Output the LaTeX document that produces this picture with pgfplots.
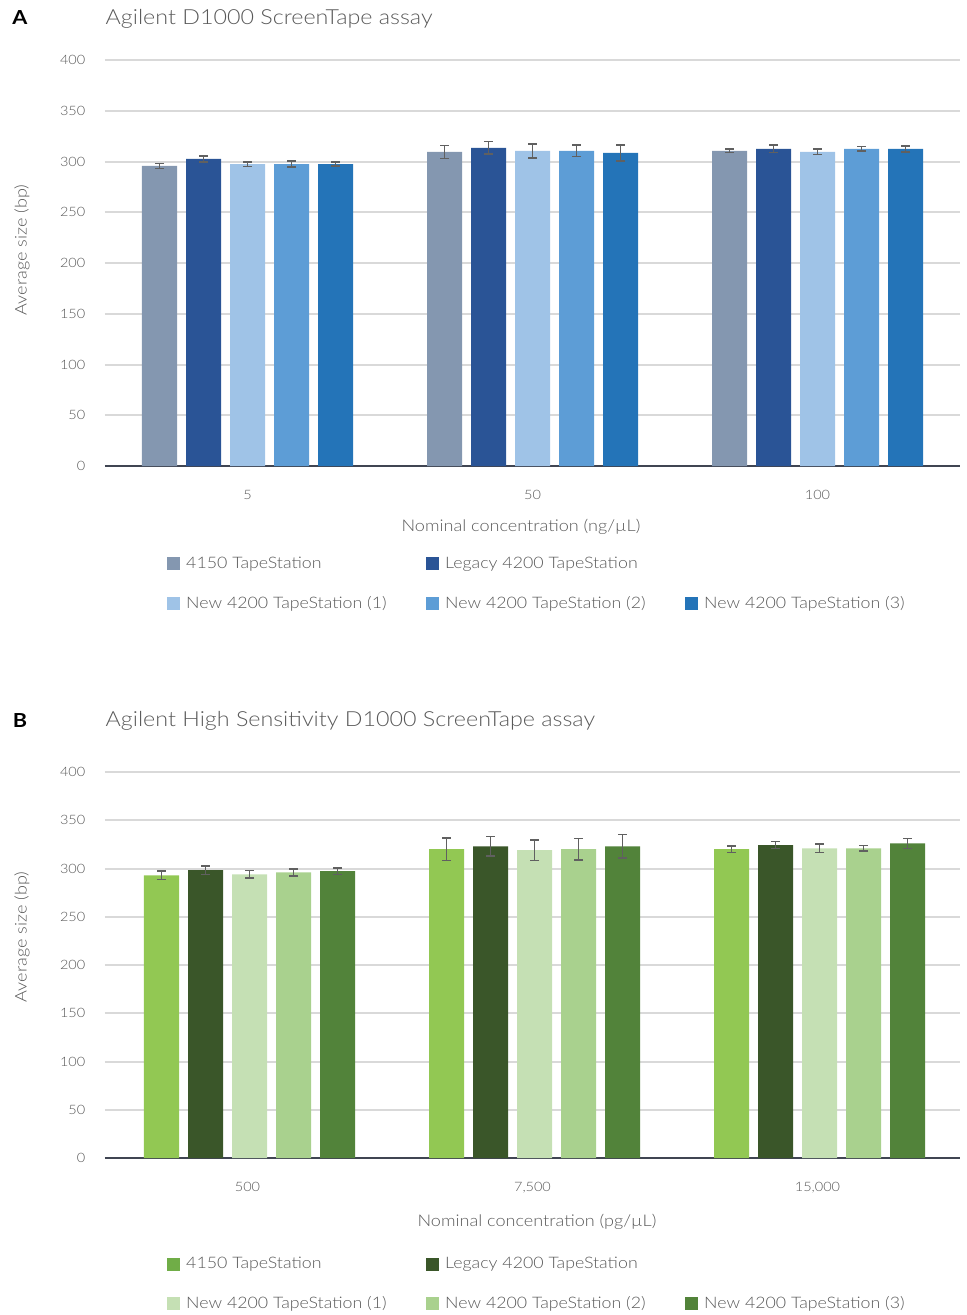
\documentclass[border=0pt]{standalone}
\usepackage{fontspec}
\setmainfont{Lato}[UprightFont={* Light},BoldFont={* Bold},FakeStretch=1.12]
\usepackage{pgfplots}
\usepackage{pgfplotstable}
\pgfplotsset{compat=1.18}

\newlength\px
\setlength\px{0.75pt}

% series colours
\definecolor{aA}{HTML}{8497B0}
\definecolor{aB}{HTML}{2A5496}
\definecolor{aC}{HTML}{9FC3E7}
\definecolor{aD}{HTML}{5D9DD6}
\definecolor{aE}{HTML}{2474B8}
\definecolor{bA}{HTML}{92C853}
\definecolor{bAleg}{HTML}{70AD47}
\definecolor{bB}{HTML}{3A5629}
\definecolor{bC}{HTML}{C5E0B4}
\definecolor{bD}{HTML}{A9D18E}
\definecolor{bE}{HTML}{52833A}
\definecolor{labc}{HTML}{595959}
\definecolor{axisc}{HTML}{404552}
\definecolor{gridc}{HTML}{D9D9D9}
\definecolor{errc}{HTML}{606060}

% average size (bp) and error, one row per nominal concentration
\pgfplotstableread{
x  s1     e1   s2     e2   s3     e3   s4     e4   s5     e5
0  295.7  2.5  302.5  3.0  297.5  2.3  297.5  3.0  297.5  2.2
1  309.5  6.4  313.5  6.3  310.5  7.0  310.5  5.5  308.5  8.0
2  310.5  1.8  312.5  3.5  309.5  2.7  312.5  2.3  312.5  3.0
}\tabA
\pgfplotstableread{
x  s1     e1    s2     e2    s3     e3    s4     e4    s5     e5
0  293.0  4.3   298.3  4.3   294.0  4.0   296.0  3.8   297.2  3.3
1  320.0  11.7  323.0  10.0  319.0  10.5  320.0  11.0  323.0  12.3
2  320.0  3.6   324.3  3.6   321.0  4.3   321.0  3.0   326.0  5.2
}\tabB

\pgfplotsset{
  tapebars/.style={
    scale only axis, width=855\px,
    xmin=-0.5, xmax=2.5, ymin=0, ymax=400, ytick={0,50,...,400},
    ybar, bar width=35\px,
    axis lines*=left,
    y axis line style={draw=none},
    x axis line style={draw=axisc, line width=2.2\px},
    ymajorgrids, grid style={gridc, line width=2\px},
    ytick style={draw=none},
    xtick={0,1,2}, xtick style={draw=none},
    extra x ticks={-0.5,0.5,1.5,2.5}, extra x tick labels={},
    extra x tick style={grid=none, tick align=outside, major tick length=7\px,
      tick style={draw=axisc, line width=2.2\px}},
    /pgf/number format/assume math mode=true,
    ticklabel style={font=\fontsize{9.7}{11}\selectfont, text=labc},
    yticklabel style={xshift=-15\px},
    xticklabel style={yshift=-14\px},
    legend columns=3,
    legend cell align=left,
    legend style={draw=none, fill=none, inner sep=0pt, row sep=26\px,
      font=\fontsize{11.9}{14}\selectfont, text=labc,
      nodes={inner sep=0pt}},
    legend image code/.code={\fill[##1] (0,-6.5\px) rectangle (13\px,6.5\px);},
    error bars/y dir=both, error bars/y explicit,
    error bars/error bar style={errc, line width=1.6\px},
    error bars/error mark options={rotate=90, errc, mark size=4.5\px, line width=1.6\px},
    clip=false,
  },
}
\newcommand\legtext[1]{\hspace{6\px}\makebox[240\px][l]{#1}}

\begin{document}
\begin{tikzpicture}
\path[use as bounding box] (0,0) rectangle (967\px,-1315\px);

% ---------------- panel A ----------------
\node[font=\bfseries\fontsize{14.5}{17}\selectfont] at (20\px,-18\px) {A};
\node[anchor=west, font=\fontsize{15.6}{18}\selectfont, text=labc] at (101\px,-19\px)
  {Agilent D1000 ScreenTape assay};
\node[rotate=90, font=\fontsize{12.1}{14}\selectfont, text=labc] at (22\px,-250\px)
  {Average size (bp)};
\node[font=\fontsize{12.1}{14}\selectfont, text=labc] at (521\px,-527\px)
  {Nominal concentration (ng/µL)};

\begin{axis}[tapebars, height=406\px,
  at={(105\px,-466\px)}, anchor=south west,
  xticklabels={5,50,100},
  legend style={at={(0.0725,-0.224)}, anchor=north west}]
\addplot[fill=aA, draw=none, bar shift=-88\px] table[x=x, y=s1, y error=e1] {\tabA};
\addlegendentry{\legtext{4150 TapeStation}}
\addplot[fill=aB, draw=none, bar shift=-44\px] table[x=x, y=s2, y error=e2] {\tabA};
\addlegendentry{\legtext{Legacy 4200 TapeStation}}
\addlegendimage{empty legend}
\addlegendentry{}
\addplot[fill=aC, draw=none, bar shift=0pt] table[x=x, y=s3, y error=e3] {\tabA};
\addlegendentry{\legtext{New 4200 TapeStation (1)}}
\addplot[fill=aD, draw=none, bar shift=44\px] table[x=x, y=s4, y error=e4] {\tabA};
\addlegendentry{\legtext{New 4200 TapeStation (2)}}
\addplot[fill=aE, draw=none, bar shift=88\px] table[x=x, y=s5, y error=e5] {\tabA};
\addlegendentry{\legtext{New 4200 TapeStation (3)}}
\end{axis}

% ---------------- panel B ----------------
\node[font=\bfseries\fontsize{14.5}{17}\selectfont] at (20\px,-720\px) {B};
\node[anchor=west, font=\fontsize{15.6}{18}\selectfont, text=labc] at (101\px,-721\px)
  {Agilent High Sensitivity D1000 ScreenTape assay};
\node[rotate=90, font=\fontsize{12.1}{14}\selectfont, text=labc] at (22\px,-937\px)
  {Average size (bp)};
\node[font=\fontsize{12.1}{14}\selectfont, text=labc] at (537\px,-1222\px)
  {Nominal concentration (pg/µL)};

\begin{axis}[tapebars, height=386\px,
  at={(105\px,-1158\px)}, anchor=south west,
  xticklabels={500,{7,500},{15,000}},
  legend style={at={(0.0725,-0.2565)}, anchor=north west}]
\addplot[fill=bA, draw=none, bar shift=-86\px, forget plot] table[x=x, y=s1, y error=e1] {\tabB};
\addlegendimage{fill=bAleg, draw=none}
\addlegendentry{\legtext{4150 TapeStation}}
\addplot[fill=bB, draw=none, bar shift=-42\px] table[x=x, y=s2, y error=e2] {\tabB};
\addlegendentry{\legtext{Legacy 4200 TapeStation}}
\addlegendimage{empty legend}
\addlegendentry{}
\addplot[fill=bC, draw=none, bar shift=2\px] table[x=x, y=s3, y error=e3] {\tabB};
\addlegendentry{\legtext{New 4200 TapeStation (1)}}
\addplot[fill=bD, draw=none, bar shift=46\px] table[x=x, y=s4, y error=e4] {\tabB};
\addlegendentry{\legtext{New 4200 TapeStation (2)}}
\addplot[fill=bE, draw=none, bar shift=90\px] table[x=x, y=s5, y error=e5] {\tabB};
\addlegendentry{\legtext{New 4200 TapeStation (3)}}
\end{axis}
\end{tikzpicture}
\end{document}
